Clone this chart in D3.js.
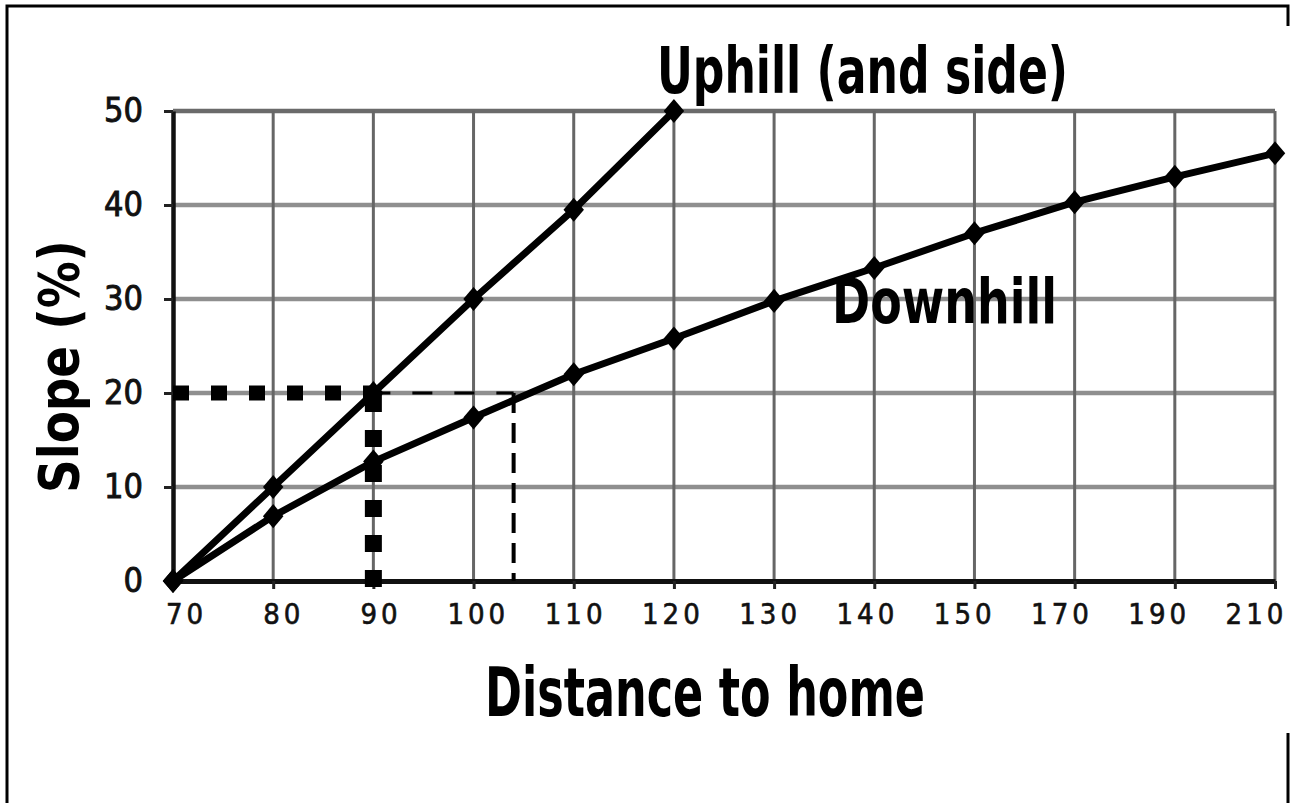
<!DOCTYPE html>
<html><head><meta charset="utf-8">
<script src="https://cdn.jsdelivr.net/npm/d3@7"></script>
<style>
html,body{margin:0;padding:0;background:#fff;}
svg{display:block;}
text{font-family:"Liberation Sans Narrow","DejaVu Sans Condensed","Liberation Sans",sans-serif;}
</style></head>
<body>
<svg id="c" width="1299" height="803"></svg>
<script>
// ---- data ----
const distances = [70, 80, 90, 100, 110, 120, 130, 140, 150, 170, 190, 210];
const uphillDistances = [70, 80, 90, 100, 110, 120];
const uphillSlope = [0, 10, 20, 30, 39.5, 50];
const downhillSlope = [0, 6.9, 12.7, 17.4, 22, 25.8, 29.8, 33.3, 37, 40.3, 43, 45.5];
const slopeTicks = [0, 10, 20, 30, 40, 50];
const refSlope = 20;
const refUphillDistance = 90;
const refDownhillDistance = 104;

const svg = d3.select("#c");

// ---- scales ----
const xPoint = d3.scalePoint().domain(distances).range([173, 1275]);
const x = d3.scaleLinear().domain(distances).range(distances.map(d => xPoint(d)));
const y = d3.scaleLinear().domain([0, 50]).range([581, 111]);
const labelPos = d3.scalePoint().domain(distances).range([186, 1256]);

// ---- outer frame ----
svg.append("path")
  .attr("d", "M7,803 L7,6 L1288,6 L1288,26 M1288,733 L1288,803")
  .attr("fill", "none").attr("stroke", "#000").attr("stroke-width", 3);

// ---- grid ----
const g = svg.append("g");
g.selectAll("line.hg").data(slopeTicks.filter(d => d > 0)).join("line")
  .attr("x1", x(70)).attr("x2", x(210))
  .attr("y1", d => y(d)).attr("y2", d => y(d))
  .attr("stroke", d => d === 50 ? "#6a6a6a" : "#8f8f8f")
  .attr("stroke-width", 4.5);
g.selectAll("line.vg").data(distances.filter(d => d > 70)).join("line")
  .attr("x1", d => x(d)).attr("x2", d => x(d))
  .attr("y1", y(50)).attr("y2", y(0))
  .attr("stroke", "#666").attr("stroke-width", 3);

// ---- axes ----
const xAxis = d3.axisBottom(x).tickValues(distances).tickSize(8).tickSizeOuter(0).tickFormat(d3.format("d"));
const xa = svg.append("g").attr("transform", `translate(0,${y(0)})`).call(xAxis);
xa.select(".domain").attr("stroke", "#111").attr("stroke-width", 5);
xa.selectAll(".tick line").attr("stroke", "#222").attr("stroke-width", 3);
xa.selectAll(".tick text")
  .attr("x", d => labelPos(d) - x(d))
  .attr("y", 22)
  .attr("fill", "#111")
  .style("font-size", "29px").style("font-weight", "normal").style("letter-spacing", "4px")
  .style("stroke", "#111").style("stroke-width", "0.6px")
  .style("font-family", "'Liberation Sans Narrow','DejaVu Sans Condensed',sans-serif");

const yAxis = d3.axisLeft(y).tickValues(slopeTicks).tickSize(9).tickSizeOuter(0);
const ya = svg.append("g").attr("transform", `translate(${x(70)},0)`).call(yAxis);
ya.select(".domain").attr("stroke", "#111").attr("stroke-width", 4.5);
ya.selectAll(".tick line").attr("stroke", "#222").attr("stroke-width", 3);
ya.selectAll(".tick text")
  .attr("x", -30)
  .attr("fill", "#111")
  .style("font-size", "34px").style("font-weight", "normal")
  .style("stroke", "#111").style("stroke-width", "0.9px")
  .style("font-family", "'Liberation Sans Narrow','DejaVu Sans Condensed',sans-serif");

// ---- reference lines ----
svg.append("line")
  .attr("x1", x(70)).attr("x2", x(refUphillDistance))
  .attr("y1", y(refSlope)).attr("y2", y(refSlope))
  .attr("stroke", "#000").attr("stroke-width", 15).attr("stroke-dasharray", "16,22");
svg.append("line")
  .attr("x1", x(refUphillDistance)).attr("x2", x(refUphillDistance))
  .attr("y1", y(0) + 6).attr("y2", y(refSlope))
  .attr("stroke", "#000").attr("stroke-width", 17).attr("stroke-dasharray", "17,18");
svg.append("line")
  .attr("x1", x(refUphillDistance) - 3).attr("x2", x(refDownhillDistance))
  .attr("y1", y(refSlope)).attr("y2", y(refSlope))
  .attr("stroke", "#000").attr("stroke-width", 3).attr("stroke-dasharray", "20,22");
svg.append("line")
  .attr("x1", x(refDownhillDistance)).attr("x2", x(refDownhillDistance))
  .attr("y1", y(refSlope)).attr("y2", y(0))
  .attr("stroke", "#000").attr("stroke-width", 4).attr("stroke-dasharray", "20,10");

// ---- series ----
const line = d3.line().x(d => x(d[0])).y(d => y(d[1]));
const upData = uphillDistances.map((d, i) => [d, uphillSlope[i]]);
const downData = distances.map((d, i) => [d, downhillSlope[i]]);

const diamond = {
  draw(ctx, size) {
    const h = Math.sqrt(size) / 2;
    const w = h * 0.85;
    ctx.moveTo(0, -h); ctx.lineTo(w, 0); ctx.lineTo(0, h); ctx.lineTo(-w, 0); ctx.closePath();
  }
};
const sym = d3.symbol().type(diamond).size(580);

[downData, upData].forEach(data => {
  svg.append("path").datum(data)
    .attr("d", line).attr("fill", "none").attr("stroke", "#000").attr("stroke-width", 7)
    .attr("stroke-linejoin", "round");
  svg.append("g").selectAll("path").data(data).join("path")
    .attr("transform", d => `translate(${x(d[0])},${y(d[1])})`)
    .attr("d", sym).attr("fill", "#000");
});

// ---- labels ----
svg.append("text").text("Uphill (and side)")
  .attr("x", 657).attr("y", 93)
  .attr("textLength", 411).attr("lengthAdjust", "spacingAndGlyphs")
  .style("font-size", "64px").style("font-weight", "bold").attr("fill", "#000");
svg.append("text").text("Downhill")
  .attr("x", 832).attr("y", 323)
  .attr("textLength", 225).attr("lengthAdjust", "spacingAndGlyphs")
  .style("font-size", "62px").style("font-weight", "bold").attr("fill", "#000");
svg.append("text").text("Distance to home")
  .attr("x", 485).attr("y", 716)
  .attr("textLength", 440).attr("lengthAdjust", "spacingAndGlyphs")
  .style("font-size", "68px").style("font-weight", "bold").attr("fill", "#000");
svg.append("text").text("Slope (%)")
  .attr("transform", "translate(78,493) rotate(-90)")
  .attr("textLength", 253).attr("lengthAdjust", "spacingAndGlyphs")
  .style("font-size", "56px").style("font-weight", "bold").attr("fill", "#000");
</script>
</body></html>
